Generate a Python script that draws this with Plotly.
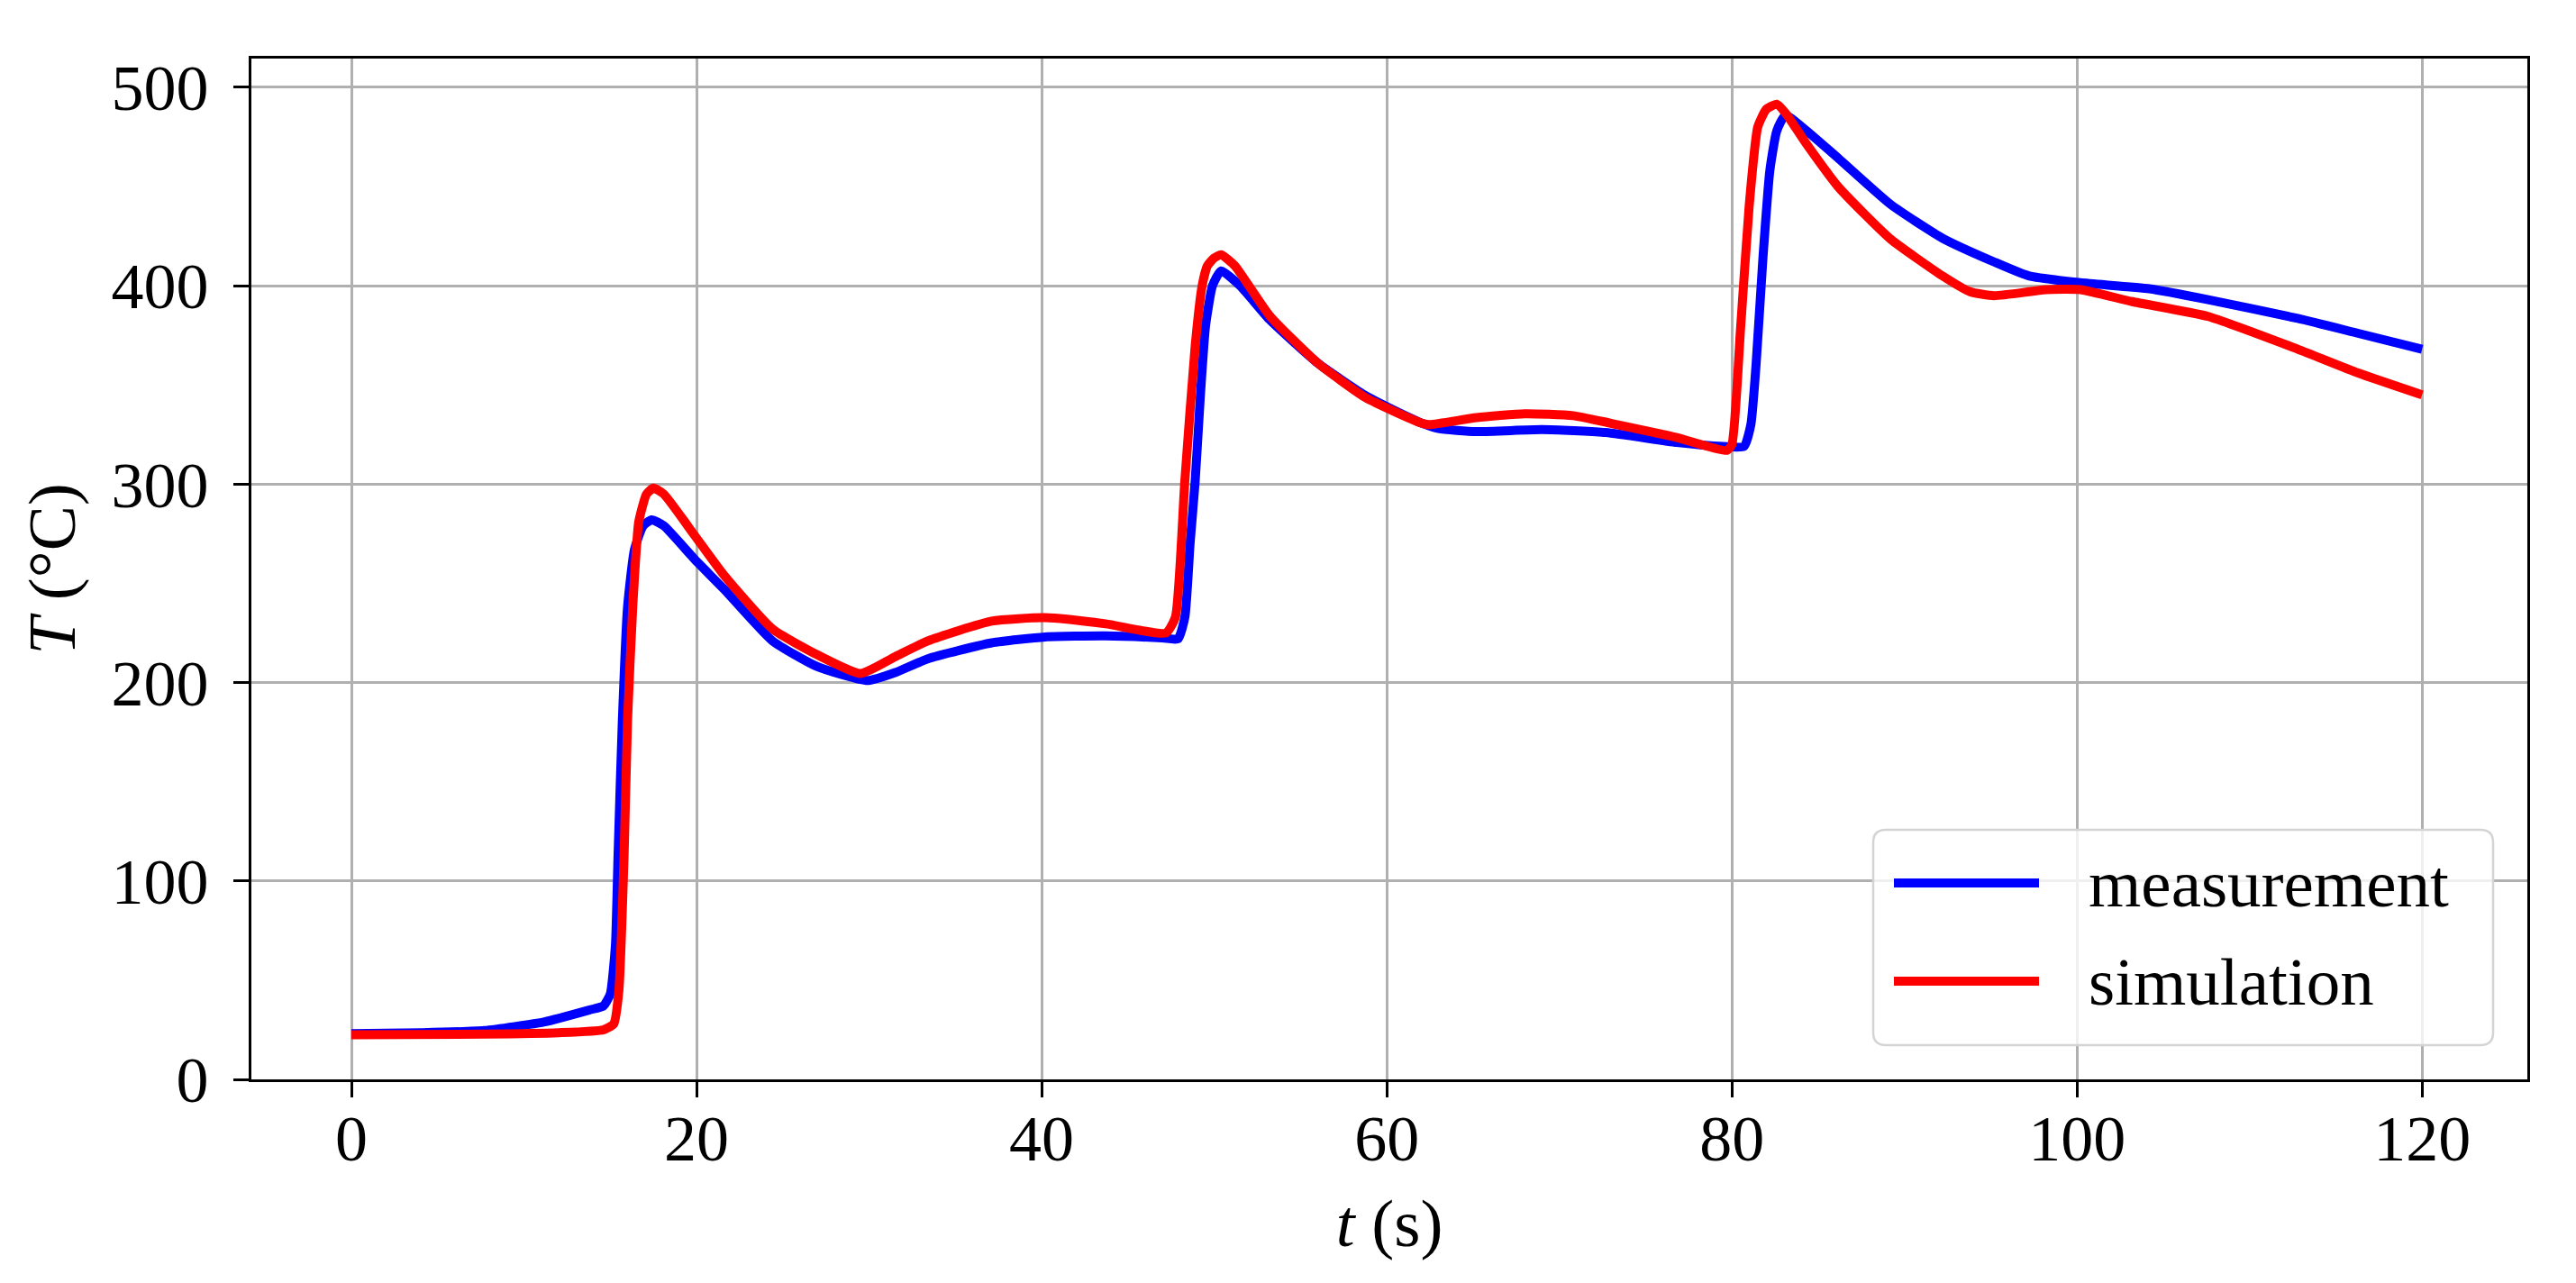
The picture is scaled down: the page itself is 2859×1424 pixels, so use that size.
import plotly.graph_objects as go

t_meas = [0, 4, 7.7, 11.2, 13.8, 14.6, 15.0, 15.3, 15.45, 15.7, 16.0, 16.4, 16.9, 17.4, 18.1,
          19.9, 21.6, 24.4, 27, 29.9, 31.5, 33.4, 37.1, 40.2, 43.7, 47.0, 47.9, 48.3, 48.6,
          48.9, 49.2, 49.5, 49.9, 50.4, 51.5, 53.2, 56.0, 58.7, 60.6, 62.1, 63.0, 65.2, 69.0,
          72.7, 76.8, 79.5, 80.7, 81.1, 81.4, 81.8, 82.2, 82.6, 83.1, 84.2, 86.2, 89.2, 92.2,
          95.2, 97.2, 100.2, 104.2, 107.6, 112.8, 116.3, 120]
T_meas = [23, 23.5, 24.6, 29, 35, 37, 43, 68, 113, 181, 238, 267, 279, 282, 279,
          262, 247, 221, 208, 201, 205, 212, 220, 223, 223.5, 222.5, 222, 233, 270,
          302, 345, 380, 400, 407.5, 400, 383, 361, 345, 336.5, 330.5, 328, 326.5, 327.5,
          326, 321, 319, 319, 330, 360, 414, 458, 478, 486, 479, 464, 441, 424,
          412, 405, 401.5, 398.5, 393, 383.5, 376, 368]

# simulation (red)
t_sim = [0, 7.7, 12, 14.6, 15.2, 15.5, 15.8, 16.0, 16.3, 16.65, 17.1, 17.5, 18.1, 19.9, 21.6,
         24.4, 27, 29.5, 31.5, 33.4, 37.1, 40.2, 43.7, 47.2, 47.75, 48.3, 48.9, 49.3, 49.6,
         50.0, 50.4, 51.2, 53.2, 56.0, 58.7, 60.6, 62.1, 62.5, 65.2, 68.0, 70.8, 73.6, 76.8,
         79.7, 80.0, 80.5, 81.0, 81.5, 82.0, 82.6, 83.2, 84.2, 86.2, 89.2, 92.2, 93.8, 95.2,
         98.2, 100.2, 103.2, 107.6, 112.8, 116.3, 120]
T_sim = [22.5, 22.8, 23.5, 25, 28, 45, 113, 181, 238, 281, 295, 298, 295, 274, 254,
         227, 214, 204.6, 213, 221, 231, 232.7, 229.6, 225, 233, 302, 370, 400, 410,
         414, 415.6, 410, 385, 361, 344, 336, 330.5, 330, 333.5, 335.5, 334.5, 329.5, 323.5,
         317, 320, 378, 440, 480, 489, 491.5, 486, 473, 449.5, 423.5, 405, 397, 395,
         398, 398, 392, 384.5, 368, 356, 345]

series_names = ["measurement", "simulation"]
series_colors = ["#0000ff", "#ff0000"]

FONT = "Liberation Serif"
# page body has an 8px margin, so the figure is a bit smaller than the window
W, H = 2851, 1416
L, R, T, B = 271, 54, 57, 226

fig = go.Figure()
for tt, vv, nm, col in [(t_meas, T_meas, series_names[0], series_colors[0]),
                        (t_sim, T_sim, series_names[1], series_colors[1])]:
    fig.add_trace(go.Scatter(x=tt, y=vv, mode="lines", name=nm, showlegend=False,
                             line=dict(color=col, width=10, shape="spline", smoothing=0.5)))

axis_style = dict(showline=True, mirror=True, linecolor="black", linewidth=3,
                  showgrid=True, gridcolor="#b0b0b0", gridwidth=2.5,
                  ticks="outside", ticklen=17, tickwidth=3, tickcolor="black",
                  zeroline=False, tickfont=dict(family=FONT, size=72, color="black"))

fig.update_xaxes(range=[-5.8, 126.1], tickvals=[0, 20, 40, 60, 80, 100, 120],
                 ticklabelstandoff=-16,
                 title=dict(text="<i>t</i> (s)", font=dict(family=FONT, size=75, color="black"),
                            standoff=28),
                 **axis_style)
fig.update_yaxes(range=[0, 514.5], tickvals=[0, 100, 200, 300, 400, 500],
                 ticklabelstandoff=13,
                 title=dict(text="<i>T</i> (°C)", font=dict(family=FONT, size=75, color="black"),
                            standoff=16),
                 **axis_style)

# legend box drawn like matplotlib's (rounded frame, long line samples)
pw, ph = W - L - R, H - T - B
def px(xa):
    return (xa - 8 - L) / pw
def py(ya):
    return (H - B - (ya - 8)) / ph

x0, x1, y0, y1 = px(2079), px(2767), py(1160), py(921)
rx, ry = 14 / pw, 14 / ph
path = (f"M{x0+rx},{y0} L{x1-rx},{y0} Q{x1},{y0} {x1},{y0+ry} L{x1},{y1-ry} Q{x1},{y1} {x1-rx},{y1} "
        f"L{x0+rx},{y1} Q{x0},{y1} {x0},{y1-ry} L{x0},{y0+ry} Q{x0},{y0} {x0+rx},{y0} Z")
shapes = [dict(type="path", xref="paper", yref="paper", path=path,
               fillcolor="rgba(255,255,255,0.8)", line=dict(color="#d4d4d4", width=2.5),
               layer="above")]
annotations = []
for i, (nm, col) in enumerate(zip(series_names, series_colors)):
    yl = py([980, 1089][i])
    shapes.append(dict(type="line", xref="paper", yref="paper", x0=px(2102), x1=px(2263),
                       y0=yl, y1=yl, line=dict(color=col, width=10), layer="above"))
    annotations.append(dict(xref="paper", yref="paper", x=px(2316), y=yl, text=nm,
                            showarrow=False, xanchor="left", yanchor="middle",
                            font=dict(family=FONT, size=75, color="black")))

fig.update_layout(width=W, height=H, margin=dict(l=L, r=R, t=T, b=B, autoexpand=False),
                  plot_bgcolor="white", paper_bgcolor="white",
                  shapes=shapes, annotations=annotations,
                  font=dict(family=FONT, size=72, color="black"))

fig.write_html("out.html")
